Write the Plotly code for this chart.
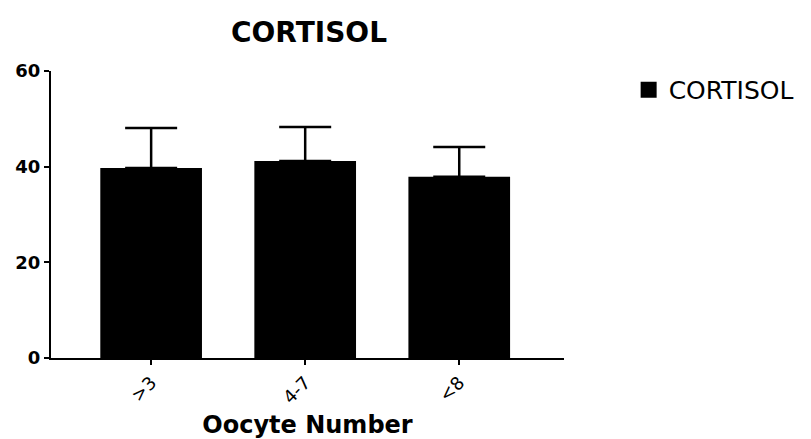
import plotly.graph_objects as go

categories = [">3", "4-7", "<8"]
means = [39.7, 41.2, 37.9]
errors = [8.4, 7.1, 6.2]
y_ticks = [0, 20, 40, 60]
series_name = "CORTISOL"

FONT = "DejaVu Sans, Liberation Sans, Arial, sans-serif"

fig = go.Figure()
fig.add_trace(go.Bar(
    x=categories, y=means, name=series_name, showlegend=False,
    marker=dict(color="black", line=dict(color="black", width=0)),
    width=0.66,
    error_y=dict(type="data", array=errors, arrayminus=[0] * len(errors), symmetric=False,
                 color="black", thickness=2.5, width=26),
))
# legend entry with a larger square symbol
fig.add_trace(go.Scatter(
    x=[None], y=[None], mode="markers", name=series_name,
    marker=dict(symbol="square", size=18, color="black"),
))

fig.update_layout(
    width=811, height=439,
    margin=dict(l=51, r=244, t=71, b=81),
    paper_bgcolor="white", plot_bgcolor="white",
    font=dict(family=FONT, color="black"),
    title=dict(text="<b>CORTISOL</b>", xref="container", x=0.381, xanchor="center",
               yref="container", y=0.927, yanchor="middle",
               font=dict(size=28, color="black", family=FONT)),
    showlegend=True,
    legend=dict(x=1.126, y=1.014, xanchor="left", yanchor="top",
                font=dict(size=25, color="black", family=FONT),
                bgcolor="rgba(0,0,0,0)"),
)
fig.update_xaxes(
    type="category", range=[-0.65, 2.68], automargin=False,
    showline=True, linecolor="black", linewidth=2,
    ticks="outside", ticklen=5, tickwidth=2, tickcolor="black",
    tickangle=-45, tickfont=dict(size=18, family=FONT),
    title=dict(text="<b>Oocyte Number</b>", font=dict(size=24, family=FONT), standoff=25),
    showgrid=False,
)
fig.update_yaxes(
    range=[0, 60], tickvals=y_ticks, ticktext=[f"<b>{v}</b>" for v in y_ticks],
    automargin=False,
    showline=True, linecolor="black", linewidth=2,
    ticks="outside", ticklen=5, tickwidth=2, tickcolor="black",
    tickfont=dict(size=18, family=FONT), showgrid=False, zeroline=False,
)

fig.write_html("out.html", config={"displayModeBar": False},
               post_script="document.body.style.margin='0px';")
